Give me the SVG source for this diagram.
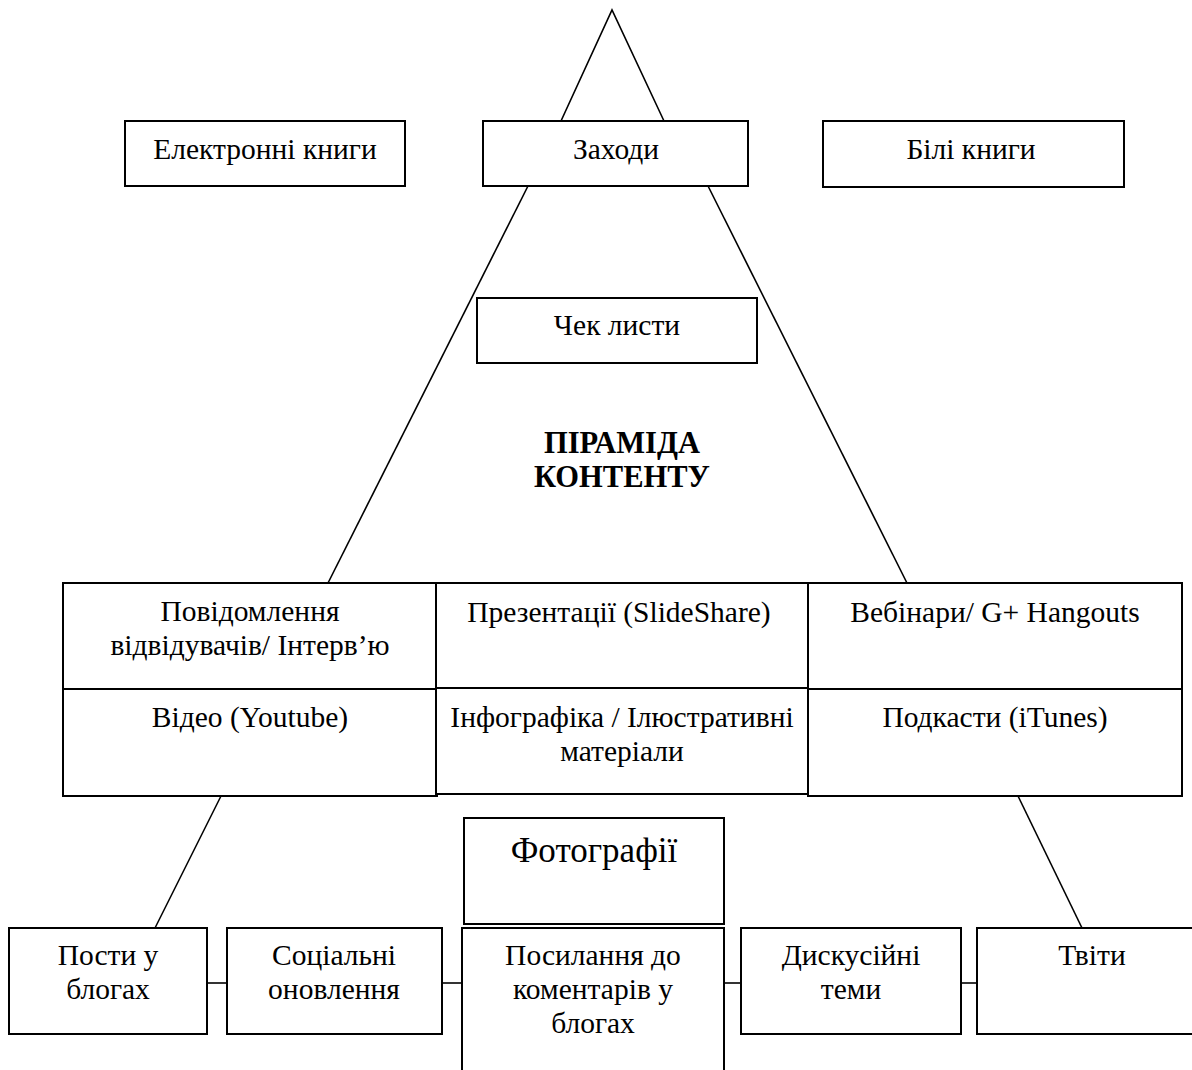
<svg xmlns="http://www.w3.org/2000/svg" width="1192" height="1070" viewBox="0 0 1192 1070">
<style>
.box{fill:#fff;stroke:#000;stroke-width:2}
.ln{fill:none;stroke:#000;stroke-width:1.6}
text{font-family:"Liberation Serif","Times New Roman",serif;font-size:29.5px;fill:#000;text-anchor:middle}
.big{font-size:35px}
.title{font-weight:bold;font-size:30.5px}
</style>
<rect width="1192" height="1070" fill="#fff"/>
<g id="connectors">
<polyline class="ln" points="561,121 612,10 664,121"/>
<line class="ln" x1="528" y1="186" x2="328" y2="583"/>
<line class="ln" x1="708" y1="186" x2="907" y2="583"/>
<line class="ln" x1="221" y1="796" x2="155" y2="928"/>
<line class="ln" x1="1018" y1="796" x2="1082" y2="928"/>
<line class="ln" x1="207" y1="983" x2="227" y2="983"/>
<line class="ln" x1="442" y1="983" x2="462" y2="983"/>
<line class="ln" x1="724" y1="983" x2="741" y2="983"/>
<line class="ln" x1="961" y1="983" x2="977" y2="983"/>
</g>
<g id="ebooks"><rect class="box" x="125" y="121" width="280" height="65"/><text x="265" y="159">Електронні книги</text></g>
<g id="events"><rect class="box" x="483" y="121" width="265" height="65"/><text x="616" y="159">Заходи</text></g>
<g id="whitepapers"><rect class="box" x="823" y="121" width="301" height="66"/><text x="971" y="159">Білі книги</text></g>
<g id="checklists"><rect class="box" x="477" y="298" width="280" height="65"/><text x="617" y="335">Чек листи</text></g>
<g id="title"><text class="title" x="622" y="453">ПІРАМІДА</text><text class="title" x="622" y="487">КОНТЕНТУ</text></g>
<g id="visitors"><rect class="box" x="63" y="583" width="374" height="106"/><text x="250" y="621">Повідомлення</text><text x="250" y="655">відвідувачів/ Інтерв’ю</text></g>
<g id="video"><rect class="box" x="63" y="689" width="374" height="107"/><text x="250" y="727">Відео (Youtube)</text></g>
<g id="presentations"><rect class="box" x="436" y="583" width="373" height="105"/><text x="619" y="622">Презентації (SlideShare)</text></g>
<g id="infographics"><rect class="box" x="436" y="688" width="373" height="106"/><text x="622" y="727">Інфографіка / Ілюстративні</text><text x="622" y="761">матеріали</text></g>
<g id="webinars"><rect class="box" x="808" y="583" width="374" height="106"/><text x="995" y="622">Вебінари/ G+ Hangouts</text></g>
<g id="podcasts"><rect class="box" x="808" y="689" width="374" height="107"/><text x="995" y="727">Подкасти (iTunes)</text></g>
<g id="photos"><rect class="box" x="464" y="818" width="260" height="106"/><text class="big" x="594" y="862">Фотографії</text></g>
<g id="blogposts"><rect class="box" x="9" y="928" width="198" height="106"/><text x="108" y="965">Пости у</text><text x="108" y="999">блогах</text></g>
<g id="social"><rect class="box" x="227" y="928" width="215" height="106"/><text x="334" y="965">Соціальні</text><text x="334" y="999">оновлення</text></g>
<g id="comments"><rect class="box" x="462" y="928" width="262" height="160"/><text x="593" y="965">Посилання до</text><text x="593" y="999">коментарів у</text><text x="593" y="1033">блогах</text></g>
<g id="discussions"><rect class="box" x="741" y="928" width="220" height="106"/><text x="851" y="965">Дискусійні</text><text x="851" y="999">теми</text></g>
<g id="tweets"><rect class="box" x="977" y="928" width="230" height="106"/><text x="1092" y="965">Твіти</text></g>
</svg>
